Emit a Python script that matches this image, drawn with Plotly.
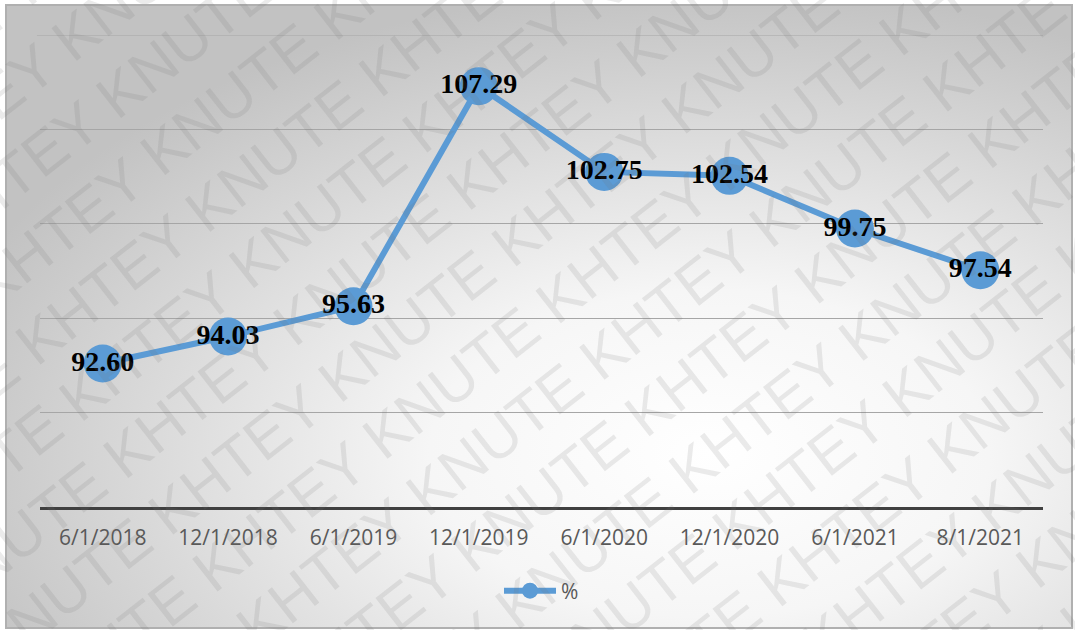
import base64
import math
import plotly.graph_objects as go

# Index values by reporting date
dates = ["6/1/2018", "12/1/2018", "6/1/2019", "12/1/2019",
         "6/1/2020", "12/1/2020", "6/1/2021", "8/1/2021"]
values = [92.60, 94.03, 95.63, 107.29, 102.75, 102.54, 99.75, 97.54]
series_name = "%"

W, H = 1075, 630
M_L, M_R, M_T, M_B = 40, 32, 35, 123
PW, PH = W - M_L - M_R, H - M_T - M_B

BLUE = "#5B9BD5"


def px_to_paper(px, py):
    return (px - M_L) / PW, (H - M_B - py) / PH


fig = go.Figure()

fig.add_trace(go.Scatter(
    x=dates, y=values, name=series_name,
    mode="lines+markers+text",
    line=dict(color=BLUE, width=6),
    marker=dict(color=BLUE, size=38),
    texttemplate="%{y:.2f}",
    textposition="middle center",
    textfont=dict(family="Liberation Serif", size=28, color="black",
                  weight="bold"),
    cliponaxis=False,
))

# Soft radial background
svg = f"""<svg xmlns='http://www.w3.org/2000/svg' width='{W}' height='{H}'>
<defs><radialGradient id='g' cx='0.66' cy='0.72' r='0.75' gradientUnits='objectBoundingBox'>
<stop offset='0' stop-color='#ffffff'/>
<stop offset='0.35' stop-color='#f6f6f6'/>
<stop offset='1' stop-color='#c2c2c2'/>
</radialGradient></defs>
<rect width='{W}' height='{H}' fill='url(#g)'/>
</svg>"""
bg_uri = "data:image/svg+xml;base64," + base64.b64encode(svg.encode()).decode()
x0, y0 = px_to_paper(6, 5)
x1, y1 = px_to_paper(1072, 628)
fig.add_layout_image(dict(
    source=bg_uri, xref="paper", yref="paper",
    x=x0, y=y0, sizex=x1 - x0, sizey=y0 - y1,
    xanchor="left", yanchor="top", sizing="stretch", layer="below",
))

# Chart frame
fig.add_shape(type="rect", xref="paper", yref="paper",
              x0=x0, y0=y1, x1=x1, y1=y0,
              line=dict(color="#b0b0b0", width=2), layer="below")

# Top gridline at the upper end of the value range
fig.add_shape(type="line", xref="paper", yref="y",
              x0=-0.003, x1=1.0, y0=110, y1=110,
              line=dict(color="#a6a6a6", width=1), layer="below")

# Diagonal watermark
mark = "KHTEY KNUTE "
ang = 38
dx, dy = math.sin(math.radians(ang)), math.cos(math.radians(ang))
step = 72
for k in range(-11, 12):
    cx = W / 2 + k * step * dx
    cy = H / 2 + k * step * dy
    ax, ay = px_to_paper(cx, cy)
    fig.add_annotation(
        x=ax, y=ay, xref="paper", yref="paper",
        text=(mark * 6).strip(), showarrow=False, textangle=-ang,
        font=dict(family="Liberation Sans Narrow, Liberation Sans", size=60,
                  color="rgba(110,110,110,0.14)"),
        xanchor="center", yanchor="middle",
    )

fig.update_layout(
    width=W, height=H,
    margin=dict(l=M_L, r=M_R, t=M_T, b=M_B),
    paper_bgcolor="white",
    plot_bgcolor="rgba(0,0,0,0)",
    showlegend=True,
    legend=dict(orientation="h", x=0.5, xanchor="center",
                y=-0.178, yanchor="middle", itemwidth=52,
                font=dict(family="Open Sans", size=21, color="#595959"),
                bgcolor="rgba(0,0,0,0)"),
    xaxis=dict(
        type="category", range=[-0.5, len(dates) - 0.5],
        showgrid=False, showline=True,
        linecolor="#404040", linewidth=3, ticks="",
        tickfont=dict(family="Open Sans", size=21, color="#595959"),
        ticklabelstandoff=10, zeroline=False,
    ),
    yaxis=dict(
        range=[85, 110], dtick=5, showticklabels=False,
        showgrid=True, gridcolor="#a6a6a6", gridwidth=1,
        zeroline=False, showline=False,
    ),
)

fig.write_html("out.html")
